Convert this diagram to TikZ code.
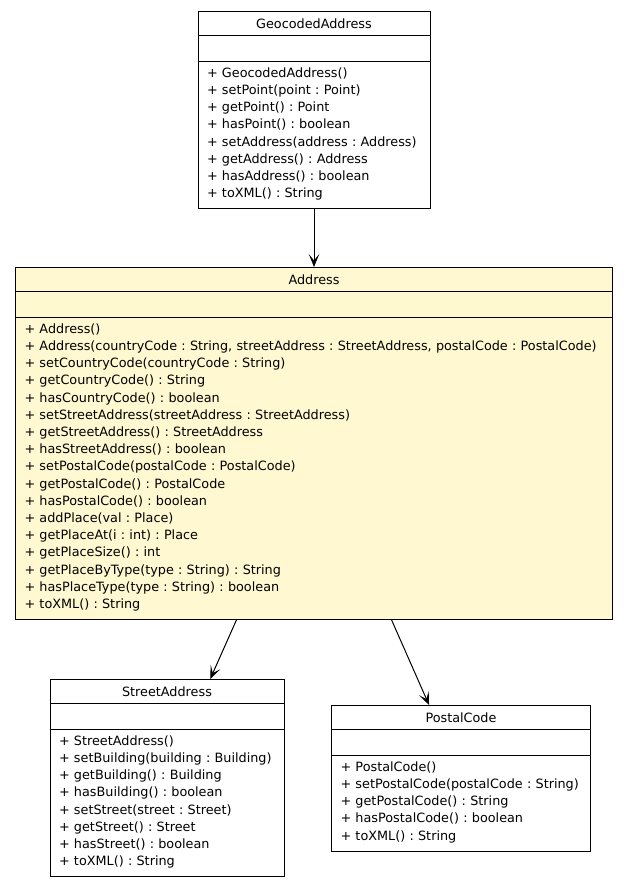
\documentclass[tikz,border=0pt]{standalone}
\usepackage{fontspec}
\setmainfont{DejaVu Sans}
\usetikzlibrary{positioning,fit,arrows.meta}
\definecolor{classfill}{RGB}{255,248,208}
\newcommand\opstrut{\rule[-6.2pt]{0pt}{17.2pt}}
\frenchspacing
\tikzset{
  part/.style={draw, line width=1pt, inner sep=0pt, outer sep=0pt,
    font=\fontsize{12.8}{17.2}\selectfont},
  title/.style={part, minimum width=#1, minimum height=24.5pt},
  attrs/.style={part, minimum width=#1, minimum height=26pt},
  ops/.style={part, text width=#1, inner xsep=9pt, inner ysep=4.75pt, align=left,
    execute at begin node=\opstrut, execute at end node=\opstrut},
  whole/.style={inner sep=0pt, outer sep=0pt},
  uses/.style={line width=1pt, -{Stealth[length=13pt,width=10.5pt,inset=6.5pt]}}
}
\begin{document}
\begin{tikzpicture}[x=1pt,y=1pt]
\useasboundingbox (0,0) rectangle (628,-887);
% GeocodedAddress
\node[title=232pt, anchor=north] (geo) at (314,-11) {GeocodedAddress};
\node[attrs=232pt, below=0pt of geo] (geoattr) {};
\node[ops=214pt, below=0pt of geoattr] (geoops) {+ GeocodedAddress()\\
+ setPoint(point : Point)\\
+ getPoint() : Point\\
+ hasPoint() : boolean\\
+ setAddress(address : Address)\\
+ getAddress() : Address\\
+ hasAddress() : boolean\\
+ toXML() : String};
\node[whole, fit=(geo)(geoops)] (geobox) {};
% Address
\node[title=597pt, fill=classfill, anchor=north] (addr) at (314,-267) {Address};
\node[attrs=597pt, fill=classfill, below=0pt of addr] (addrattr) {};
\node[ops=579pt, fill=classfill, below=0pt of addrattr] (addrops) {+ Address()\\
+ Address(countryCode : String, streetAddress : StreetAddress, postalCode : PostalCode)\\
+ setCountryCode(countryCode : String)\\
+ getCountryCode() : String\\
+ hasCountryCode() : boolean\\
+ setStreetAddress(streetAddress : StreetAddress)\\
+ getStreetAddress() : StreetAddress\\
+ hasStreetAddress() : boolean\\
+ setPostalCode(postalCode : PostalCode)\\
+ getPostalCode() : PostalCode\\
+ hasPostalCode() : boolean\\
+ addPlace(val : Place)\\
+ getPlaceAt(i : int) : Place\\
+ getPlaceSize() : int\\
+ getPlaceByType(type : String) : String\\
+ hasPlaceType(type : String) : boolean\\
+ toXML() : String};
\node[whole, fit=(addr)(addrops)] (addrbox) {};
% StreetAddress
\node[title=234pt, anchor=north] (street) at (167,-679) {StreetAddress};
\node[attrs=234pt, below=0pt of street] (streetattr) {};
\node[ops=216pt, below=0pt of streetattr] (streetops) {+ StreetAddress()\\
+ setBuilding(building : Building)\\
+ getBuilding() : Building\\
+ hasBuilding() : boolean\\
+ setStreet(street : Street)\\
+ getStreet() : Street\\
+ hasStreet() : boolean\\
+ toXML() : String};
\node[whole, fit=(street)(streetops)] (streetbox) {};
% PostalCode
\node[title=259pt, anchor=north] (postal) at (461,-705) {PostalCode};
\node[attrs=259pt, below=0pt of postal] (postalattr) {};
\node[ops=241pt, below=0pt of postalattr] (postalops) {+ PostalCode()\\
+ setPostalCode(postalCode : String)\\
+ getPostalCode() : String\\
+ hasPostalCode() : boolean\\
+ toXML() : String};
\node[whole, fit=(postal)(postalops)] (postalbox) {};
% associations
\draw[uses] (geobox) -- (addrbox);
\draw[uses] (addrbox) -- (streetbox);
\draw[uses] (addrbox) -- (postalbox);
\end{tikzpicture}
\end{document}
